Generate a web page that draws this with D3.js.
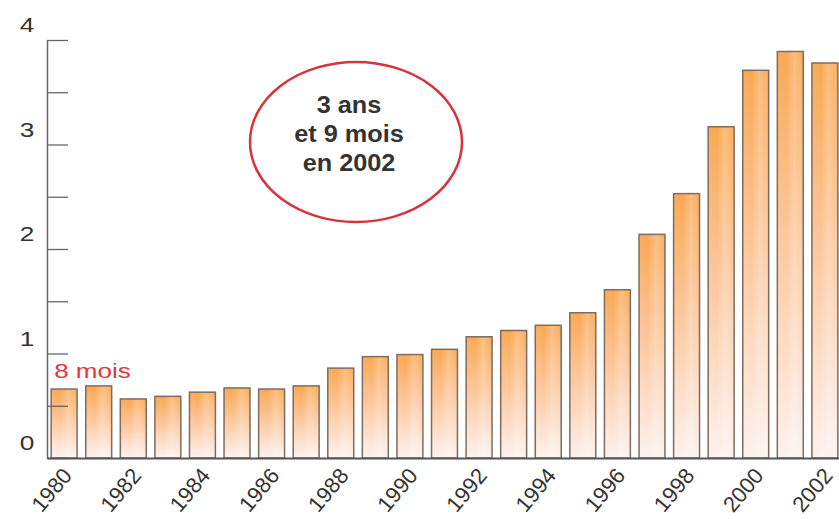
<!DOCTYPE html>
<html>
<head>
<meta charset="utf-8">
<script src="https://cdn.jsdelivr.net/npm/d3@7"></script>
<style>
  body { margin: 0; background: #fff; }
  text { font-family: "Liberation Sans", Arial, sans-serif; }
</style>
</head>
<body>
<div class="graph-center"></div>
<script>
// data
let years = d3.range(1980, 2003)
let values = [0.66, 0.69, 0.565, 0.59, 0.63, 0.67, 0.66, 0.69, 0.86, 0.97, 0.99, 1.04,
    1.16, 1.22, 1.27, 1.39, 1.61, 2.14, 2.53, 3.17, 3.71, 3.89, 3.78]
let yTicks = [0, 0.5, 1, 1.5, 2, 2.5, 3, 3.5, 4]
let yLabels = [0, 1, 2, 3, 4]
let xLabels = [1980, 1982, 1984, 1986, 1988, 1990, 1992, 1994, 1996, 1998, 2000, 2002]
let bubbleLines = ["3 ans", "et 9 mois", "en 2002"]
let firstNote = "8 mois"

let svgWidth = 839
let svgHeight = 519

let svg = d3.select('.graph-center')
    .append('svg')
    .attr('width', svgWidth)
    .attr('height', svgHeight)

let data = years.map((y, i) => ({year: y, value: values[i]}))

// scales
let xScale = d3.scaleBand()
    .domain(years)
    .range([47, 842])
    .paddingInner(0.25)
    .paddingOuter(0.12)

let yScale = d3.scaleLinear()
    .domain([0, 4])
    .range([458, 40])

// gradients for bars
let defs = svg.append('defs')
let vg = defs.append('linearGradient')
    .attr('id', 'barFill')
    .attr('x1', 0).attr('y1', 0).attr('x2', 0).attr('y2', 1)
vg.append('stop').attr('offset', '0%').attr('stop-color', '#f9a851')
vg.append('stop').attr('offset', '40%').attr('stop-color', '#fcc292')
vg.append('stop').attr('offset', '100%').attr('stop-color', '#fdf2ef')

let hg = defs.append('linearGradient')
    .attr('id', 'barShine')
    .attr('x1', 0).attr('y1', 0).attr('x2', 1).attr('y2', 0)
hg.append('stop').attr('offset', '0%').attr('stop-color', '#fff').attr('stop-opacity', 0.05)
hg.append('stop').attr('offset', '35%').attr('stop-color', '#fff').attr('stop-opacity', 0)
hg.append('stop').attr('offset', '65%').attr('stop-color', '#fff').attr('stop-opacity', 0.25)
hg.append('stop').attr('offset', '100%').attr('stop-color', '#fff').attr('stop-opacity', 0.05)

// bars
let bars = svg.append('g')
bars.selectAll('rect.bar')
    .data(data)
    .enter()
    .append('rect')
    .attr('class', 'bar')
    .attr('x', d => xScale(d.year))
    .attr('y', d => yScale(d.value))
    .attr('width', xScale.bandwidth())
    .attr('height', d => yScale(0) - yScale(d.value))
    .attr('fill', 'url(#barFill)')

bars.selectAll('rect.shine')
    .data(data)
    .enter()
    .append('rect')
    .attr('class', 'shine')
    .attr('x', d => xScale(d.year))
    .attr('y', d => yScale(d.value))
    .attr('width', xScale.bandwidth())
    .attr('height', d => yScale(0) - yScale(d.value))
    .attr('fill', 'url(#barShine)')
    .attr('stroke', '#7e6c60')
    .attr('stroke-width', 1.5)

// y axis with inward ticks
let yAxis = d3.axisRight(yScale)
    .tickValues(yTicks)
    .tickSize(21)
    .tickSizeOuter(0)
    .tickFormat('')

let yg = svg.append('g')
    .attr('transform', 'translate(47,0)')
    .call(yAxis)
yg.select('.domain').attr('stroke', '#666').attr('stroke-width', 1.5)
yg.selectAll('.tick line').attr('stroke', '#666').attr('stroke-width', 1.3)

// y labels (sit above their tick)
svg.append('g').selectAll('text')
    .data(yLabels)
    .enter()
    .append('text')
    .attr('transform', d => `translate(27,${yScale(d) - 8}) scale(1.25,1)`)
    .attr('text-anchor', 'middle')
    .attr('font-size', 21)
    .attr('fill', '#333')
    .text(d => d)

// x baseline
let xAxis = d3.axisBottom(xScale)
    .tickSize(0)
    .tickValues([])
let xg = svg.append('g')
    .attr('transform', `translate(0,${yScale(0)})`)
    .call(xAxis)
xg.select('.domain').attr('stroke', '#555').attr('stroke-width', 2)

// x labels, rotated
svg.append('g').selectAll('text')
    .data(xLabels)
    .enter()
    .append('text')
    .attr('x', 0)
    .attr('y', 0)
    .attr('transform', d => 'translate(' + (xScale(d) + xScale.bandwidth() / 2 + 9) + ',476) rotate(-50)')
    .attr('text-anchor', 'end')
    .attr('font-size', 22)
    .attr('fill', '#333')
    .text(d => d)

// "8 mois" note above first bar
svg.append('text')
    .attr('transform', `translate(${xScale(1980) + 3},${yScale(values[0]) - 11}) scale(1.24,1)`)
    .attr('font-size', 21)
    .attr('fill', '#e2363f')
    .text(firstNote)

// callout ellipse
svg.append('ellipse')
    .attr('cx', 356)
    .attr('cy', 142)
    .attr('rx', 106)
    .attr('ry', 80)
    .attr('fill', '#fff')
    .attr('stroke', '#d8323b')
    .attr('stroke-width', 2.5)

svg.append('g').selectAll('text')
    .data(bubbleLines)
    .enter()
    .append('text')
    .attr('transform', (d, i) => `translate(349,${113 + i * 29}) scale(1.1,1)`)
    .attr('text-anchor', 'middle')
    .attr('font-size', 23)
    .attr('font-weight', 'bold')
    .attr('fill', '#333')
    .text(d => d)
</script>
</body>
</html>
